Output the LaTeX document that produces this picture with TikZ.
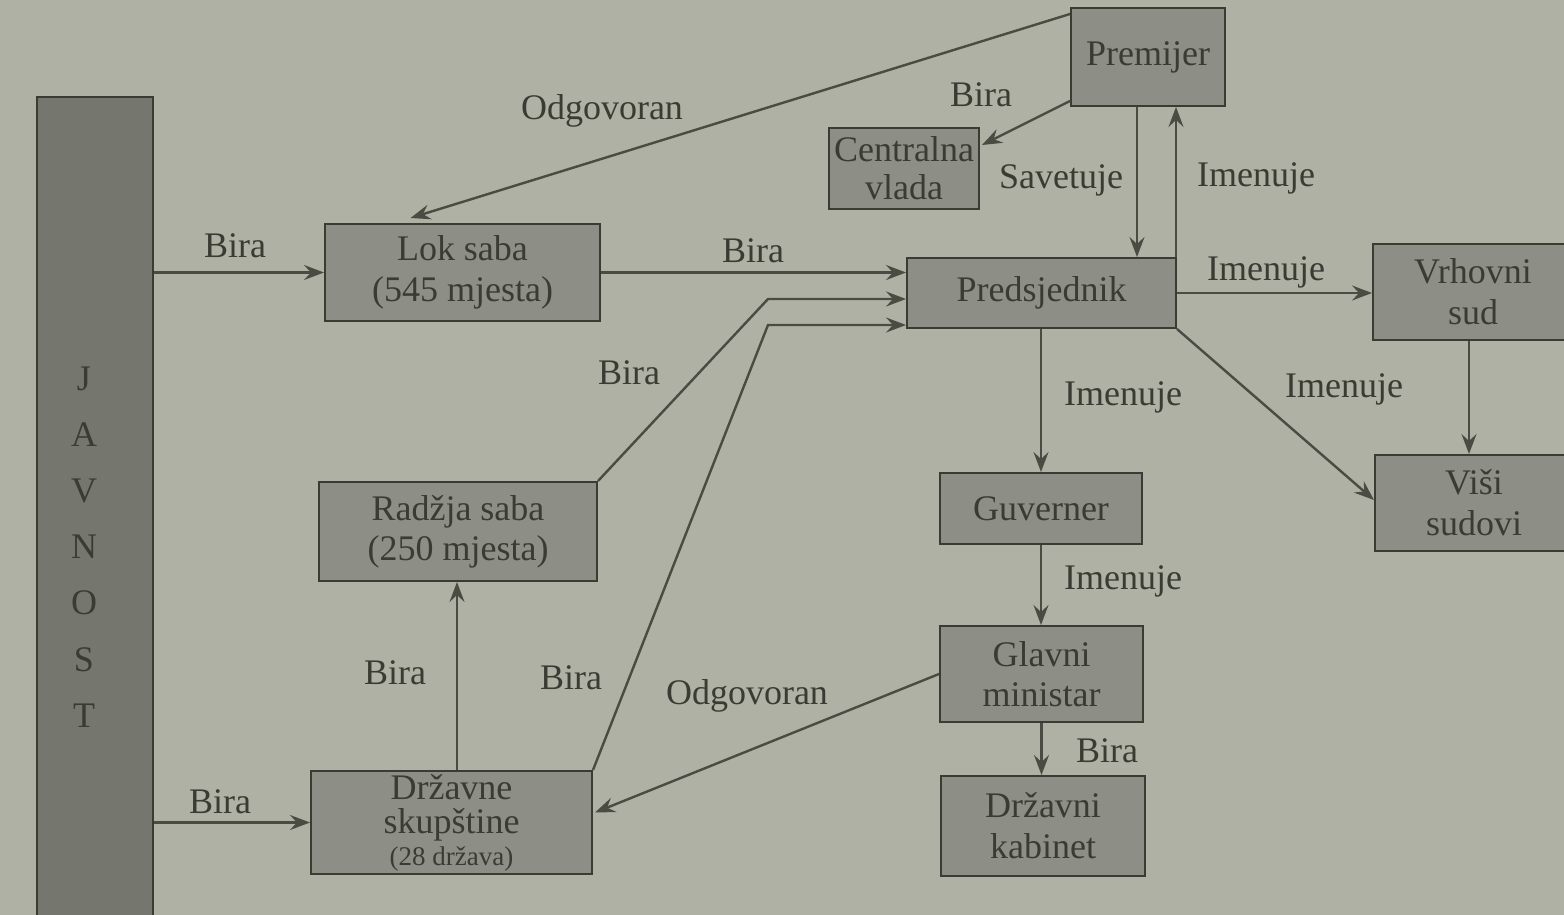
\documentclass[tikz,border=0pt]{standalone}
\usepackage{fontspec}
\setmainfont{Liberation Serif}
\usetikzlibrary{arrows.meta,calc}
\definecolor{bg}{HTML}{AFB1A5}
\definecolor{boxfill}{HTML}{8D8F86}
\definecolor{barfill}{HTML}{75776E}
\definecolor{ink}{HTML}{3A3B33}
\definecolor{linec}{HTML}{4A4B43}
\begin{document}
\begin{tikzpicture}[x=1pt,y=-1pt,
  box/.style={draw=ink, line width=2pt, fill=boxfill, text=ink, align=center,
    inner sep=0pt, font=\fontsize{36}{40}\selectfont},
  lbl/.style={text=ink, inner sep=0pt, font=\fontsize{36}{40}\selectfont},
  arr/.style={draw=linec, line width=2.4pt,
    -{Stealth[length=20pt,width=15pt,inset=7pt]}},
  ln/.style={draw=linec, line width=2.4pt}]
\fill[bg] (0,0) rectangle (1564,915);
\useasboundingbox (0,0) rectangle (1564,915);

% nodes
\node[box, fill=barfill, minimum width=116pt, minimum height=830pt] (jav) at (95,512) {};
\node[text=ink, align=center, inner sep=0pt, font=\fontsize{36}{56.2}\selectfont] (javt) at (84,547) {J\\A\\V\\N\\O\\S\\T};
\node[box, minimum width=154pt, minimum height=98pt] (prem) at (1148,57) {Premijer};
\node[box, minimum width=150pt, minimum height=81pt] (cv) at (904,168.5) {Centralna\\[-2pt]vlada};
\node[box, minimum width=275pt, minimum height=97pt] (lok) at (462.5,272.5) {Lok saba\\[1pt](545 mjesta)};
\node[box, minimum width=269pt, minimum height=70pt] (pred) at (1041.5,293) {Predsjednik};
\node[box, minimum width=200pt, minimum height=96pt] (vrh) at (1473,292) {Vrhovni\\[1pt]sud};
\node[box, minimum width=198pt, minimum height=96pt] (visi) at (1474,503) {Viši\\[1pt]sudovi};
\node[box, minimum width=202pt, minimum height=71pt] (guv) at (1041,508.5) {Guverner};
\node[box, minimum width=203pt, minimum height=96pt] (glav) at (1041.5,674) {Glavni\\[0pt]ministar};
\node[box, minimum width=204pt, minimum height=100pt] (dk) at (1043,826) {Državni\\[1pt]kabinet};
\node[box, minimum width=278pt, minimum height=99pt] (rad) at (458,531.5) {Radžja saba\\[0pt](250 mjesta)};
\node[box, minimum width=281pt, minimum height=103pt] (ds) at (451.5,822.5) {Državne\\[-6pt]skupštine\\[-8pt]{\fontsize{27}{30}\selectfont (28 država)}};

% helper coordinates
\coordinate (sv) at (1137,0);
\coordinate (im) at (1176,0);
\coordinate (vx) at (1469,0);
\coordinate (dx) at (457,0);
\coordinate (k1) at (768,299);
\coordinate (k2) at (768,325);

% connectors
\draw[arr] (jav.east |- lok.west) -- (lok.west);
\draw[arr] (jav.east |- ds.west) -- (ds.west);
\draw[arr] (lok.east) -- (lok.east -| pred.west);
\draw[arr] (rad.north east) -- (k1) -- (k1 -| pred.west);
\draw[arr] (ds.north east) -- (k2) -- (k2 -| pred.west);
\draw[arr] (ds.north -| dx) -- (rad.south -| dx);
\draw[arr] ($(prem.north west)+(0,7)$) -- ($(lok.north)+(-52,-5)$);
\draw[arr] ($(prem.south west)+(0,-6)$) -- ($(cv.north east)+(2,18)$);
\draw[arr] (prem.south -| sv) -- (pred.north -| sv);
\draw[arr] (pred.north -| im) -- (prem.south -| im);
\draw[arr] (pred.east) -- (pred.east -| vrh.west);
\draw[arr] (pred.south east) -- ($(visi.west)+(0,-3)$);
\draw[arr] (vrh.south -| vx) -- (visi.north -| vx);
\draw[arr] (pred.south -| guv.north) -- (guv.north);
\draw[arr] (guv.south) -- (guv.south |- glav.north);
\draw[arr] (glav.south) -- (glav.south |- dk.north);
\draw[arr] (glav.west) -- ($(ds.east)+(2,-10)$);

% labels
\node[lbl] (l1) at (602,111) {Odgovoran};
\node[lbl] (l2) at (981,95) {Bira};
\node[lbl] (l3) at (1061,180) {Savetuje};
\node[lbl] (l4) at (1256,178) {Imenuje};
\node[lbl] (l5) at (235,246) {Bira};
\node[lbl] (l6) at (753,251) {Bira};
\node[lbl] (l7) at (1266,272) {Imenuje};
\node[lbl] (l8) at (629,373) {Bira};
\node[lbl] (l9) at (1123,397) {Imenuje};
\node[lbl] (l10) at (1344,389) {Imenuje};
\node[lbl] (l11) at (1123,581) {Imenuje};
\node[lbl] (l12) at (395,673) {Bira};
\node[lbl] (l13) at (571,678) {Bira};
\node[lbl] (l14) at (747,696) {Odgovoran};
\node[lbl] (l15) at (1107,751) {Bira};
\node[lbl] (l16) at (220,802) {Bira};
\end{tikzpicture}
\end{document}
